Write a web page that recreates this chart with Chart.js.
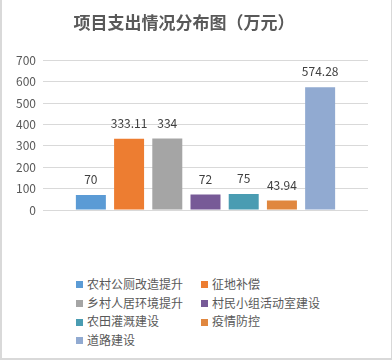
<!DOCTYPE html>
<html>
<head>
<meta charset="utf-8">
<script src="https://cdn.jsdelivr.net/npm/chart.js@4/dist/chart.umd.min.js"></script>
<style>
    body { margin: 0; background: #fff; }
    #frame {
        position: absolute; left: 0; top: 0; width: 392px; height: 360px;
        box-sizing: border-box; border: 1px solid #d9d9d9; border-top: none;
        border-left-width: 2px; border-bottom-width: 2px;
    }
    #chart { position: absolute; left: 0; top: 0; }
    #legend {
        position: absolute; left: 76px; top: 275px;
        display: grid; grid-template-columns: 125px auto;
        font: 12px "Noto Sans CJK SC", sans-serif; color: #595959;
    }
    #legend div { height: 18.7px; line-height: 18.7px; white-space: nowrap; }
    #legend span {
        display: inline-block; width: 7px; height: 7px; margin-right: 4px;
        vertical-align: middle; position: relative; top: -1px;
    }
</style>
</head>
<body>
<div id="frame"></div>
<canvas id="chart" width="392" height="250"></canvas>
<div id="legend"></div>
<script>
// Data
const seriesNames = ['农村公厕改造提升', '征地补偿', '乡村人居环境提升', '村民小组活动室建设', '农田灌溉建设', '疫情防控', '道路建设'];
const seriesValues = [70, 333.11, 334, 72, 75, 43.94, 574.28];
const seriesColors = ['#5B9BD5', '#ED7D31', '#A5A5A5', '#775A97', '#4A9CB2', '#E0873F', '#91AAD1'];
const yMax = 700;
const yStep = 100;

/**
 * Draw value labels above each bar
 */
const valueLabels = {
    id: 'valueLabels',
    afterDatasetsDraw(chart) {
        const ctx = chart.ctx;
        ctx.save();
        ctx.font = '12px "Noto Sans CJK SC", sans-serif';
        ctx.fillStyle = '#404040';
        ctx.textAlign = 'center';
        ctx.textBaseline = 'middle';
        chart.data.datasets.forEach((ds, i) => {
            const bar = chart.getDatasetMeta(i).data[0];
            ctx.fillText(String(ds.data[0]), bar.x, bar.y - 15.5);
        });
        ctx.restore();
    }
};

const datasets = seriesNames.map((name, i) => ({
    label: name,
    data: [seriesValues[i]],
    backgroundColor: seriesColors[i],
    categoryPercentage: 0.823,
    barPercentage: 0.785
}));

new Chart(document.getElementById('chart'), {
    type: 'bar',
    data: { labels: [''], datasets: datasets },
    options: {
        responsive: false,
        animation: false,
        layout: { padding: { left: 0, right: 24, bottom: 40 } },
        plugins: {
            legend: { display: false },
            tooltip: { enabled: false },
            title: {
                display: true,
                text: '项目支出情况分布图（万元）',
                color: '#595959',
                font: { family: '"Noto Sans CJK SC", sans-serif', size: 17, weight: 'bold' },
                padding: { top: 12, bottom: 28 }
            }
        },
        scales: {
            x: { display: false },
            y: {
                min: 0,
                max: yMax,
                border: { display: false },
                grid: { color: '#d9d9d9', drawTicks: false },
                ticks: {
                    stepSize: yStep,
                    padding: 7,
                    color: '#595959',
                    font: { family: '"Noto Sans CJK SC", sans-serif', size: 12 }
                },
                afterFit(scale) { scale.width = 43; }
            }
        }
    },
    plugins: [valueLabels]
});

// HTML legend in two columns like the original
const legend = document.getElementById('legend');
seriesNames.forEach((name, i) => {
    const item = document.createElement('div');
    item.innerHTML = '<span style="background:' + seriesColors[i] + '"></span>' + name;
    legend.appendChild(item);
});
</script>
</body>
</html>
